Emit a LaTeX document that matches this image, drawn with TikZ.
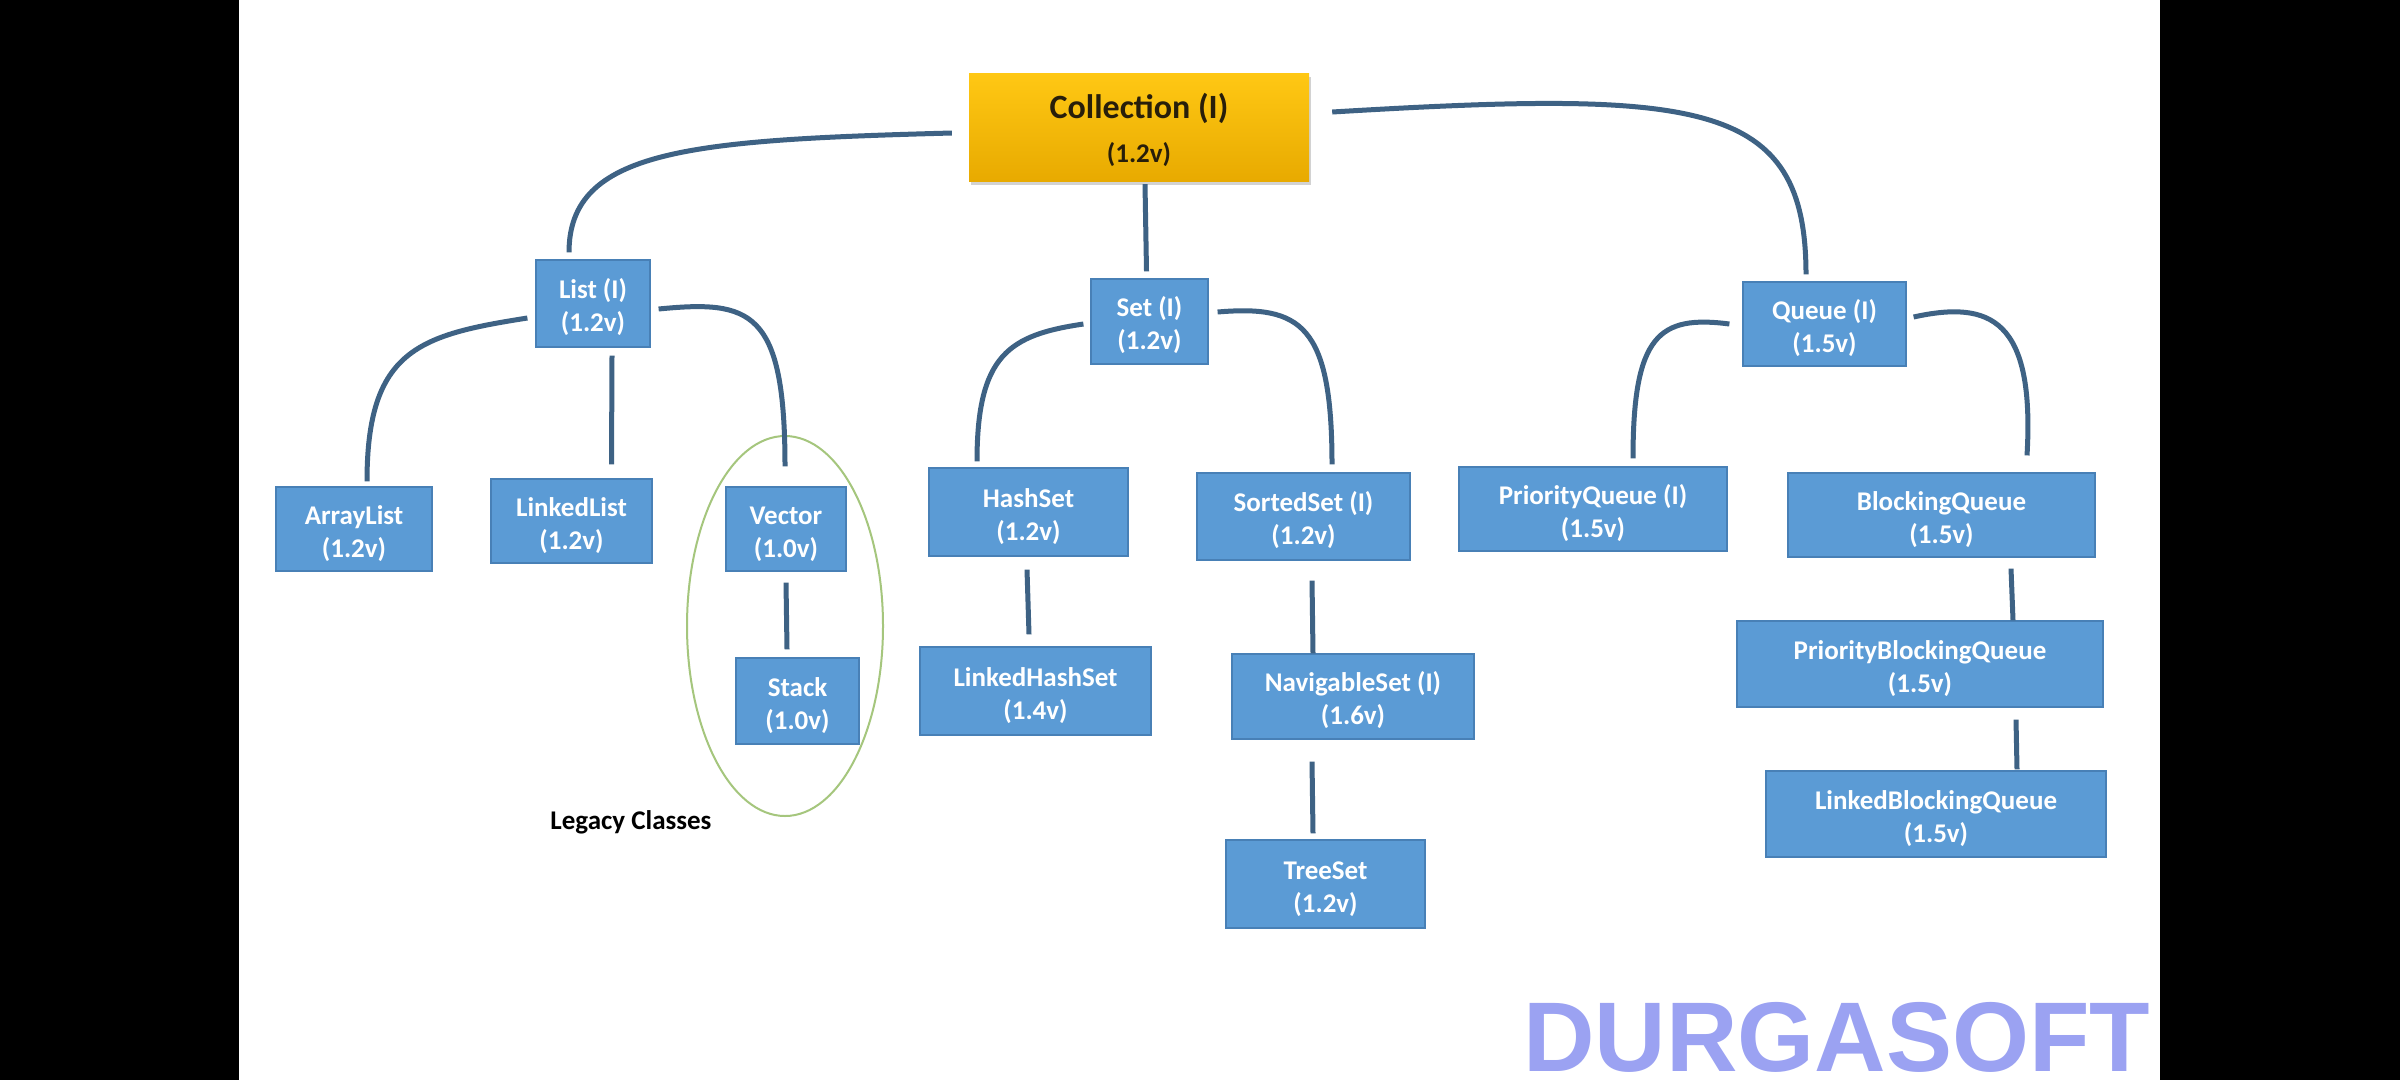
\documentclass[tikz,border=0pt]{standalone}
\usepackage{fontspec}
\setmainfont{Carlito}
\newfontfamily\arialfont{Liberation Sans}
\usetikzlibrary{shadows,calc}
\definecolor{boxblue}{RGB}{91,155,213}
\definecolor{boxedge}{RGB}{72,128,182}
\definecolor{conncol}{RGB}{62,98,132}
\definecolor{goldtop}{RGB}{255,200,20}
\definecolor{goldbot}{RGB}{232,170,0}
\definecolor{colltext}{RGB}{40,30,10}
\definecolor{legacygreen}{RGB}{165,198,125}
\definecolor{wmark}{RGB}{155,162,242}
\newcommand{\twolines}[2]{\rule{0pt}{28pt}#1\\#2}
\begin{document}
\begin{tikzpicture}[x=1pt,y=-1pt,
  box/.style={draw=boxedge, line width=1.2pt, fill=boxblue, text=white,
    font=\bfseries\fontsize{27}{33}\selectfont, align=center, inner sep=0pt},
  conn/.style={draw=conncol, line width=5pt}]
\useasboundingbox (0,0) rectangle (2400,1080);
\fill[black] (0,0) rectangle (2400,1080);
\fill[white] (239,0) rectangle (2160,1080);

% nodes
\node[draw=none, top color=goldtop, bottom color=goldbot,
  drop shadow={shadow xshift=2pt, shadow yshift=-4pt, opacity=0.35},
  minimum width=340pt, minimum height=108pt, inner sep=0pt, align=center,
  text=colltext, font=\bfseries\fontsize{34}{40}\selectfont] (col) at (1139,127)
  {\rule{0pt}{32pt}Collection (I)\\[4pt]{\fontsize{27}{27}\selectfont (1.2v)}};

\node[box, minimum width=114pt, minimum height=87pt] (list) at (593,303.5) {\twolines{List (I)}{(1.2v)}};
\node[box, minimum width=117pt, minimum height=85pt] (set) at (1149.5,321.5) {\twolines{Set (I)}{(1.2v)}};
\node[box, minimum width=163pt, minimum height=84pt] (queue) at (1824.5,324) {\twolines{Queue (I)}{(1.5v)}};

\node[box, minimum width=156pt, minimum height=84pt] (arraylist) at (354,529) {\twolines{ArrayList}{(1.2v)}};
\node[box, minimum width=161pt, minimum height=84pt] (linkedlist) at (571.5,521) {\twolines{LinkedList}{(1.2v)}};
\node[box, minimum width=120pt, minimum height=84pt] (vector) at (786,529) {\twolines{Vector}{(1.0v)}};
\node[box, minimum width=123pt, minimum height=86pt] (stack) at (797.5,701) {\twolines{Stack}{(1.0v)}};

\node[box, minimum width=199pt, minimum height=88pt] (hashset) at (1028.5,512) {\twolines{HashSet}{(1.2v)}};
\node[box, minimum width=231pt, minimum height=88pt] (lhs) at (1035.5,691) {\twolines{LinkedHashSet}{(1.4v)}};
\node[box, minimum width=213pt, minimum height=87pt] (sortedset) at (1303.5,516.5) {\twolines{SortedSet (I)}{(1.2v)}};
\node[box, minimum width=242pt, minimum height=85pt] (nav) at (1353,696.5) {\twolines{NavigableSet (I)}{(1.6v)}};
\node[box, minimum width=199pt, minimum height=88pt] (treeset) at (1325.5,884) {\twolines{TreeSet}{(1.2v)}};

\node[box, minimum width=268pt, minimum height=84pt] (pq) at (1593,509) {\twolines{PriorityQueue (I)}{(1.5v)}};
\node[box, minimum width=307pt, minimum height=84pt] (bq) at (1941.5,515) {\twolines{BlockingQueue}{(1.5v)}};
\node[box, minimum width=366pt, minimum height=86pt] (pbq) at (1920,664) {\twolines{PriorityBlockingQueue}{(1.5v)}};
\node[box, minimum width=340pt, minimum height=86pt] (lbq) at (1936,814) {\twolines{LinkedBlockingQueue}{(1.5v)}};

% legacy ellipse and label
\draw[legacygreen, line width=2pt] (785,626) ellipse [x radius=98pt, y radius=190pt];
\node[font=\bfseries\fontsize{27}{27}\selectfont, inner sep=0pt] (legacy) at (631,822) {Legacy Classes};

% watermark
\node[font=\arialfont\bfseries\fontsize{99}{99}\selectfont, text=wmark, anchor=base west, inner sep=0pt] (wm) at (1523,1071) {DURGASOFT};

% connectors
\draw[conn] ([xshift=-17pt,yshift=-6pt]col.west) .. controls +(-262,7) and +(0,-103) .. ([xshift=-24pt,yshift=7pt]list.north);
\draw[conn] ([xshift=6pt,yshift=-3pt]col.south) -- ([xshift=-3pt,yshift=7pt]set.north);
\draw[conn] ([xshift=23pt,yshift=15pt]col.east) .. controls +(368,-22) and +(0,-175) .. ([xshift=-18.5pt,yshift=7pt]queue.north);

\draw[conn] ([xshift=-8pt,yshift=-14.5pt]list.west) .. controls +(-108,17) and +(0,-132) .. ([xshift=13pt,yshift=5pt]arraylist.north);
\draw[conn] ([xshift=19pt,yshift=-8pt]list.south) -- ([xshift=40pt,yshift=14pt]linkedlist.north);
\draw[conn] ([xshift=8pt,yshift=-5.5pt]list.east) .. controls +(92,-9) and +(0,-157) .. ([xshift=-1pt,yshift=20pt]vector.north);
\draw[conn] ([yshift=-11pt]vector.south) -- ([xshift=-10.5pt,yshift=8pt]stack.north);

\draw[conn] ([xshift=-7pt,yshift=-2.5pt]set.west) .. controls +(-74,11) and +(0,-107) .. ([xshift=-51.5pt,yshift=6pt]hashset.north);
\draw[conn] ([xshift=9pt,yshift=9.5pt]set.east) .. controls +(83,-7) and +(0,-140) .. ([xshift=28.5pt,yshift=8pt]sortedset.north);
\draw[conn] ([xshift=-1.5pt,yshift=-13pt]hashset.south) -- ([xshift=-6.5pt,yshift=12pt]lhs.north);
\draw[conn] ([xshift=8.5pt,yshift=-20pt]sortedset.south) -- ([xshift=-40pt]nav.north);
\draw[conn] ([xshift=-41pt,yshift=-22pt]nav.south) -- ([xshift=-12.5pt,yshift=6pt]treeset.north);

\draw[conn] ([xshift=-13pt]queue.west) .. controls +(-70,-9) and +(0,-124) .. ([xshift=40pt,yshift=8pt]pq.north);
\draw[conn] ([xshift=7pt,yshift=7pt]queue.east) .. controls +(77,-17) and +(8,-136) .. ([xshift=85.5pt,yshift=17pt]bq.north);
\draw[conn] ([xshift=69.5pt,yshift=-11pt]bq.south) -- ([xshift=93pt]pbq.north);
\draw[conn] ([xshift=96pt,yshift=-12pt]pbq.south) -- ([xshift=81pt,yshift=1pt]lbq.north);
\end{tikzpicture}
\end{document}
